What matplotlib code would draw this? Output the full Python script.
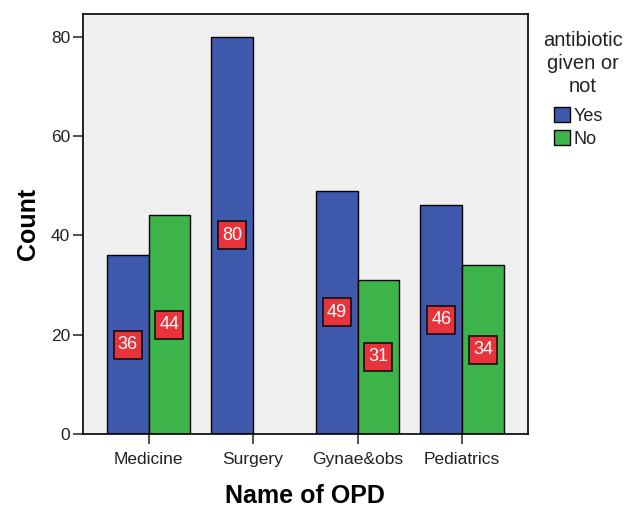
import numpy as np
import matplotlib.pyplot as plt

plt.rcParams['font.family'] = ['Liberation Sans', 'DejaVu Sans']
plt.rcParams['text.color'] = '#222222'

opd = ['Medicine', 'Surgery', 'Gynae&obs', 'Pediatrics']
yes_counts = [36, 80, 49, 46]
no_counts = [44, np.nan, 31, 34]  # no "No" bar for Surgery

blue = '#3E58AC'
green = '#3CB44A'
red = '#E8333B'

fig = plt.figure(figsize=(6.27, 5.07), dpi=100)
ax = fig.add_axes([0.132, 0.144, 0.710, 0.828])
ax.set_facecolor('#F0F0F0')

x = np.arange(len(opd))
w = 0.4
b1 = ax.bar(x - w / 2, yes_counts, w, color=blue, edgecolor='black', linewidth=1, label='Yes')
b2 = ax.bar(x + w / 2, no_counts, w, color=green, edgecolor='black', linewidth=1, label='No')


def add_labels(bars, vals):
    # red square boxes with the count, at half bar height
    for rect, v in zip(bars, vals):
        if np.isnan(v):
            continue
        cx = rect.get_x() + rect.get_width() / 2
        ax.plot(cx, v / 2, marker='s', markersize=19.5, markerfacecolor=red,
                markeredgecolor='#111111', markeredgewidth=1.2, zorder=3)
        ax.text(cx, v / 2, f'{int(v)}', ha='center', va='center', color='white',
                fontsize=13, zorder=4)


add_labels(b1, yes_counts)
add_labels(b2, no_counts)

ax.set_xlim(-0.63, 3.63)
ax.set_ylim(0, 84.5)
ax.set_yticks([0, 20, 40, 60, 80])
ax.set_xticks(x)
ax.set_xticklabels(opd)
ax.tick_params(axis='both', labelsize=12.5, length=7, width=1.2, color='#333333',
               labelcolor='#222222')
ax.tick_params(axis='y', pad=2)
ax.tick_params(axis='x', pad=6)
for s in ax.spines.values():
    s.set_linewidth(1.2)

ax.set_xlabel('Name of OPD', fontsize=18, fontweight='bold', labelpad=12)
ax.set_ylabel('Count', fontsize=18, fontweight='bold', labelpad=8)

# legend title drawn separately to get the SPSS-like spacing
fig.text(583 / 627, 1 - 31 / 507, 'antibiotic\ngiven or\nnot', ha='center', va='top',
         fontsize=14.5, linespacing=1.25, multialignment='center')
leg = ax.legend(loc='upper left', bbox_to_anchor=(554 / 627, 1 - 107 / 507),
                bbox_transform=fig.transFigure, frameon=False, fontsize=13,
                handlelength=0.9, handleheight=0.9, handletextpad=0.2,
                labelspacing=0.3, borderpad=0, borderaxespad=0)
for t in leg.get_texts():
    t.set_color('#222222')

fig.savefig('out.png', dpi=100)
